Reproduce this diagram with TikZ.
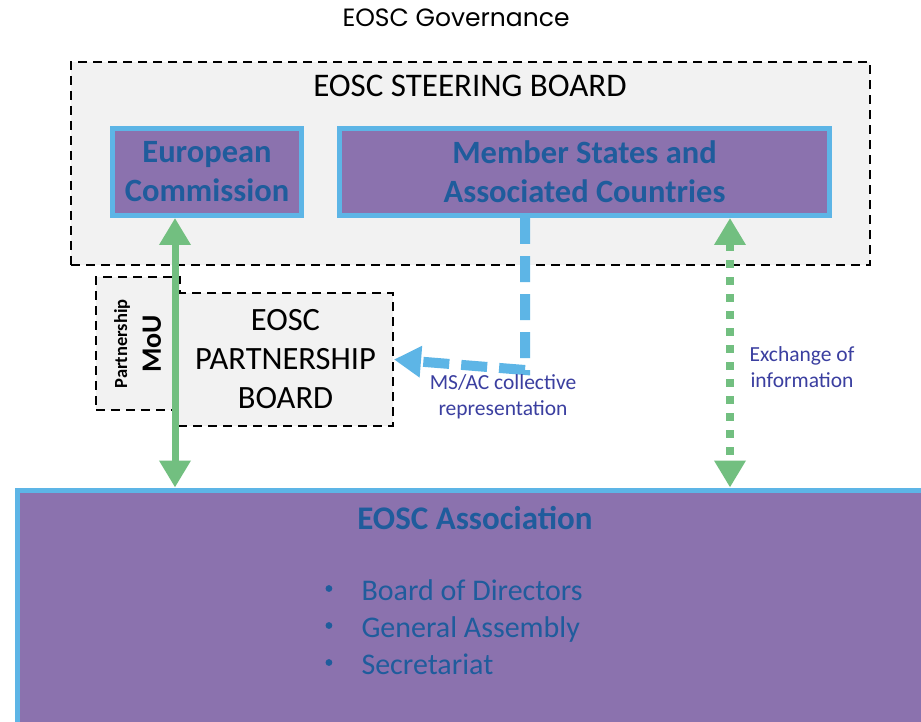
\documentclass[tikz,border=0pt]{standalone}
\usepackage{fontspec}
\setmainfont{Carlito}
\newfontfamily\titlefont{Poppins}
\usetikzlibrary{arrows.meta}
\definecolor{boxpurple}{HTML}{8B72AE}
\definecolor{boxblue}{HTML}{5DB5E6}
\definecolor{boxtext}{HTML}{1F5C9C}
\definecolor{lblue}{HTML}{3B3FA0}
\definecolor{arrgreen}{HTML}{72BF80}
\definecolor{panelgray}{HTML}{F2F2F2}
\newcommand{\smallbul}{\makebox[36pt][l]{\raisebox{0.28em}{\tikz[x=1pt,y=1pt]\fill[boxtext] (0,0) circle[radius=3.4pt];}}}
\tikzset{
  x=1pt, y=-1pt,
  dashbox/.style={draw=black, fill=panelgray, line width=2pt, dash pattern=on 9pt off 6pt, inner sep=0pt},
  purplebox/.style={draw=boxblue, fill=boxpurple, line width=5pt, inner sep=0pt, align=center,
     font=\fontsize{32.5}{39}\selectfont\bfseries, text=boxtext},
  lbl/.style={text=lblue, align=center, font=\fontsize{21.5}{26}\selectfont},
}
\begin{document}
\begin{tikzpicture}
\useasboundingbox[fill=white] (0,0) rectangle (921,722);
\node[font=\titlefont\fontsize{25}{28}\selectfont] (title) at (456,18) {EOSC Governance};
% steering board
\node[dashbox, minimum width=799pt, minimum height=203pt] (sb) at (470.5,163.5) {};
\node[font=\fontsize{33}{38}\selectfont] (sbt) at (470,86) {EOSC STEERING BOARD};
\node[purplebox, minimum width=189pt, minimum height=87pt] (ec) at (207,172) {European\\Commission};
\node[purplebox, minimum width=490pt, minimum height=87pt] (ms) at (584.5,172) {Member States and\\Associated Countries};
% partnership
\node[dashbox, minimum width=84pt, minimum height=133pt] (mou) at (138,343.5) {};
\node[rotate=90, font=\fontsize{18.5}{20}\selectfont\bfseries] (mout1) at (122,344) {Partnership};
\node[rotate=90, font=\fontsize{28}{30}\selectfont\bfseries] (mout2) at (152,344) {MoU};
\node[dashbox, minimum width=215pt, minimum height=133pt, align=center,
      font=\fontsize{32.5}{39}\selectfont] (pb) at (285.5,359.5) {EOSC\\PARTNERSHIP\\BOARD};
% association
\node[draw=boxblue, fill=boxpurple, line width=5pt, minimum width=918pt, minimum height=245pt] (assoc) at (476,612.5) {};
\node[font=\fontsize{33}{36}\selectfont\bfseries, text=boxtext] (at) at (475,518) {EOSC Association};
\node[anchor=west, text=boxtext, font=\fontsize{30}{37}\selectfont, align=left] (list) at (322,627)
  {\smallbul Board of Directors\\\smallbul General Assembly\\\smallbul Secretariat};
% green solid arrow
\coordinate (ga) at (175,0);
\draw[arrgreen, line width=7pt, {Triangle[width=30pt,length=27pt]}-{Triangle[width=30pt,length=27pt]}]
  (ga |- ec.south) -- (ga |- assoc.north);
% green dotted arrow
\coordinate (gb) at (730,0);
\draw[arrgreen, line width=8pt, dash pattern=on 8pt off 9pt, {Triangle[width=30pt,length=27pt]}-{Triangle[width=30pt,length=27pt]}]
  (gb |- ms.south) -- (gb |- assoc.north);
\node[lbl] (exl) at (802,367) {Exchange of\\information};
% blue dashed arrow
\coordinate (bend) at (525,370);
\draw[boxblue, line width=10pt, dash pattern=on 26pt off 12pt, -{Triangle[width=30pt,length=27pt]}]
  (bend |- ms.south) -- (bend) -- (pb.east);
\node[lbl] (msl) at (503,397) {MS/AC collective\\representation};
\end{tikzpicture}
\end{document}
